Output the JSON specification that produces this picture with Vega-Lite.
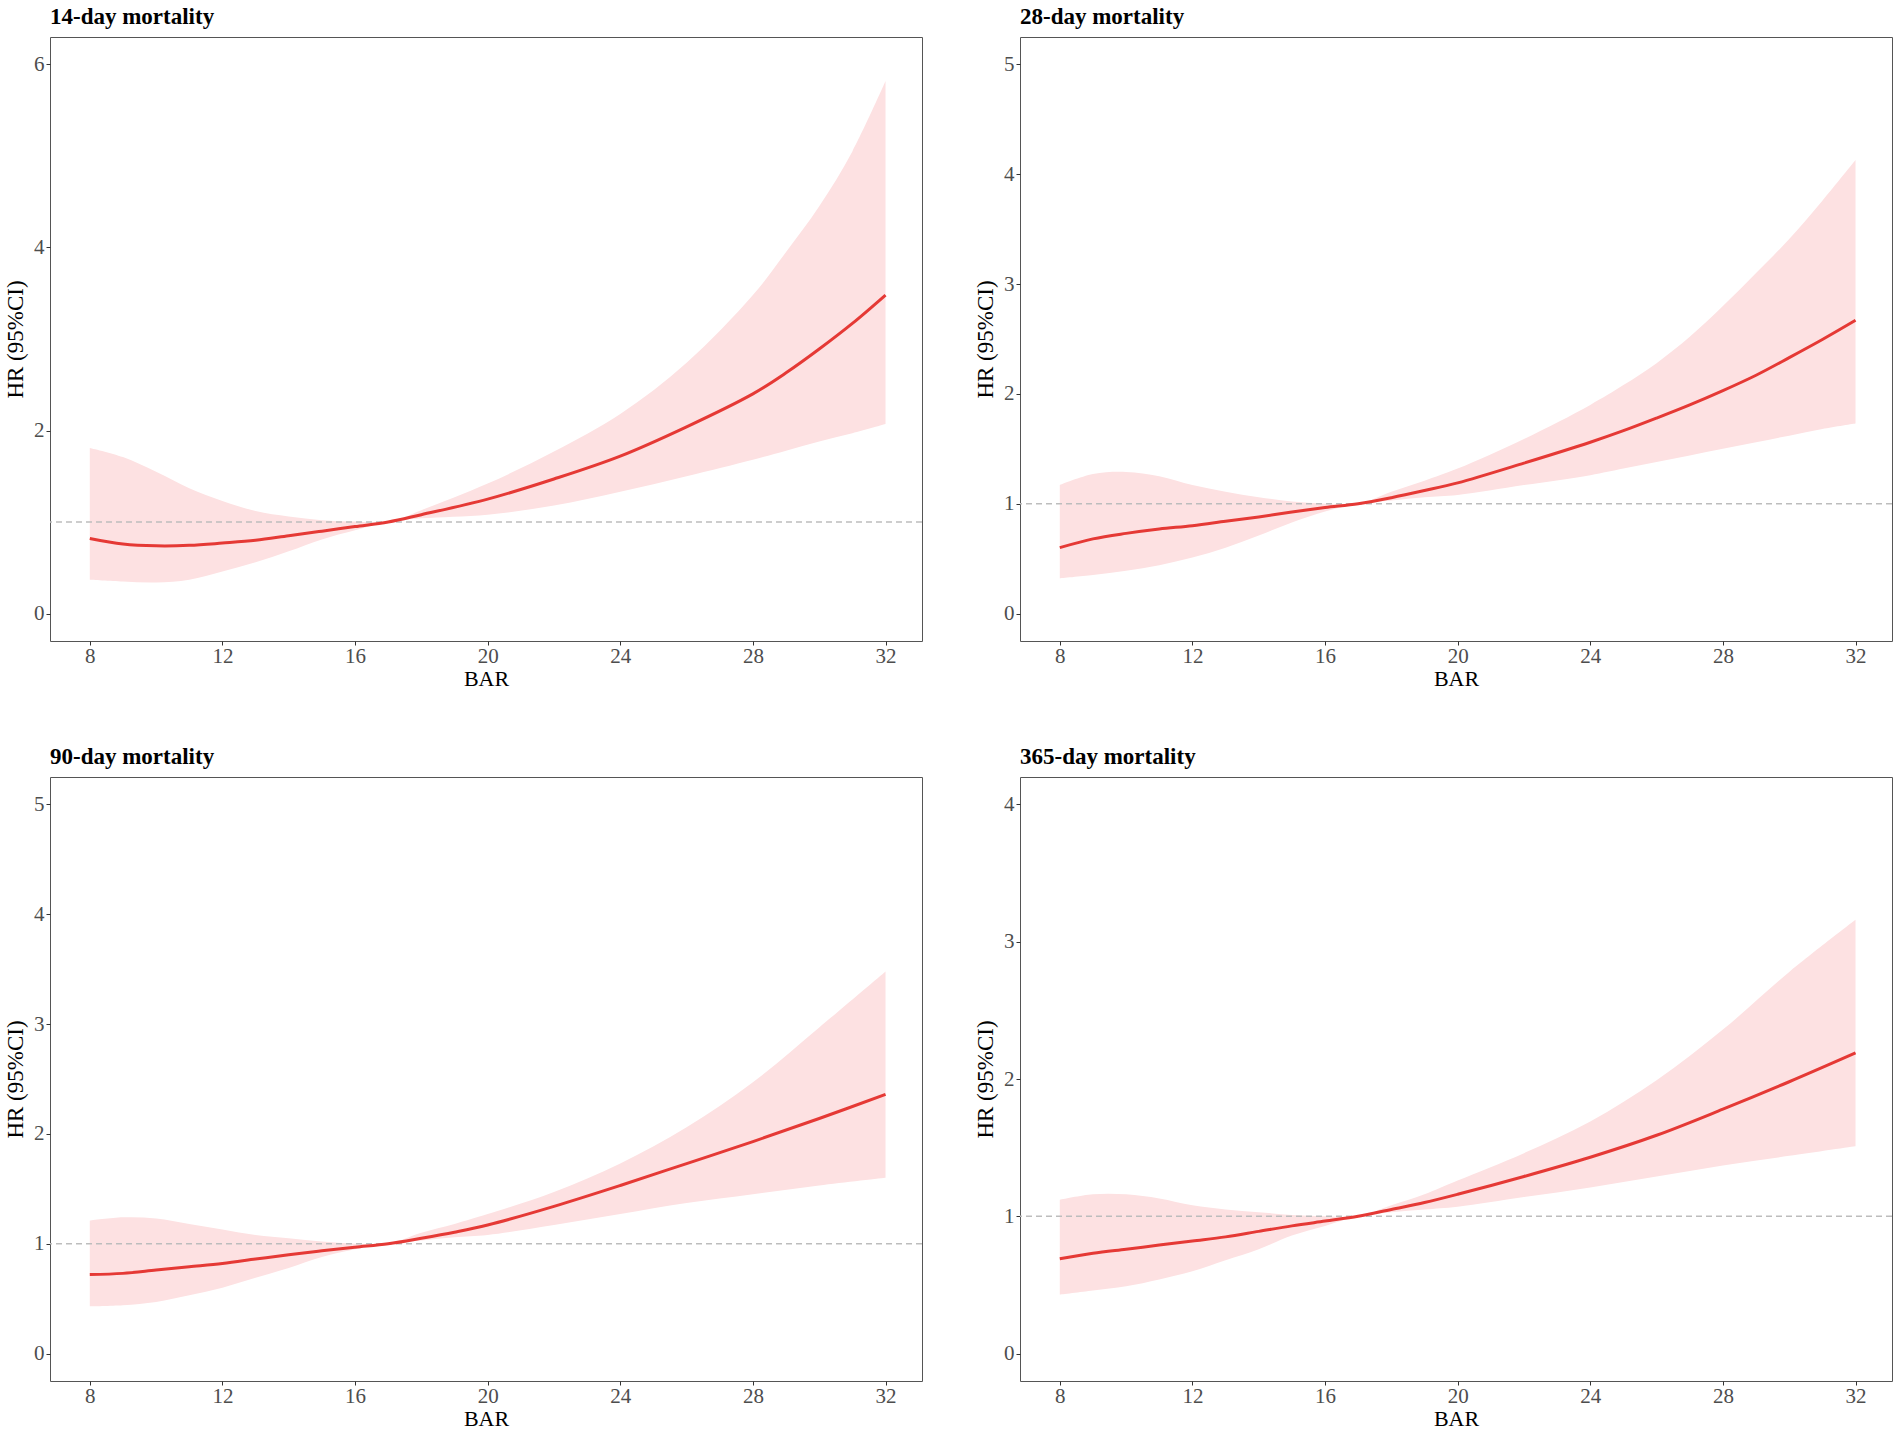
{
  "$schema": "https://vega.github.io/schema/vega-lite/v6.json",
  "background": "white",
  "padding": {"left": 4, "top": 5, "right": 4, "bottom": 2},
  "data": {
    "values": [
      {"panel": "14", "bar": 8, "hr": 0.82, "lower": 0.37, "upper": 1.81},
      {"panel": "14", "bar": 9, "hr": 0.76, "lower": 0.35, "upper": 1.71},
      {"panel": "14", "bar": 10, "hr": 0.74, "lower": 0.34, "upper": 1.55},
      {"panel": "14", "bar": 11, "hr": 0.745, "lower": 0.37, "upper": 1.37},
      {"panel": "14", "bar": 12, "hr": 0.77, "lower": 0.46, "upper": 1.23},
      {"panel": "14", "bar": 13, "hr": 0.8, "lower": 0.56, "upper": 1.12},
      {"panel": "14", "bar": 14, "hr": 0.85, "lower": 0.68, "upper": 1.06},
      {"panel": "14", "bar": 15, "hr": 0.9, "lower": 0.81, "upper": 1.02},
      {"panel": "14", "bar": 16, "hr": 0.95, "lower": 0.91, "upper": 1.005},
      {"panel": "14", "bar": 17, "hr": 1.0, "lower": 1.0, "upper": 1.0},
      {"panel": "14", "bar": 18, "hr": 1.08, "lower": 1.04, "upper": 1.13},
      {"panel": "14", "bar": 20, "hr": 1.25, "lower": 1.08, "upper": 1.42},
      {"panel": "14", "bar": 22, "hr": 1.47, "lower": 1.18, "upper": 1.77},
      {"panel": "14", "bar": 24, "hr": 1.72, "lower": 1.33, "upper": 2.18},
      {"panel": "14", "bar": 26, "hr": 2.04, "lower": 1.5, "upper": 2.74},
      {"panel": "14", "bar": 28, "hr": 2.4, "lower": 1.68, "upper": 3.48},
      {"panel": "14", "bar": 29, "hr": 2.63, "lower": 1.78, "upper": 3.95},
      {"panel": "14", "bar": 30, "hr": 2.89, "lower": 1.88, "upper": 4.45},
      {"panel": "14", "bar": 31, "hr": 3.17, "lower": 1.97, "upper": 5.05},
      {"panel": "14", "bar": 32, "hr": 3.48, "lower": 2.07, "upper": 5.82},

      {"panel": "28", "bar": 8, "hr": 0.6, "lower": 0.32, "upper": 1.17},
      {"panel": "28", "bar": 9, "hr": 0.68, "lower": 0.35, "upper": 1.27},
      {"panel": "28", "bar": 10, "hr": 0.73, "lower": 0.39, "upper": 1.29},
      {"panel": "28", "bar": 11, "hr": 0.77, "lower": 0.44, "upper": 1.25},
      {"panel": "28", "bar": 12, "hr": 0.8, "lower": 0.51, "upper": 1.17},
      {"panel": "28", "bar": 13, "hr": 0.84, "lower": 0.6, "upper": 1.11},
      {"panel": "28", "bar": 14, "hr": 0.88, "lower": 0.71, "upper": 1.06},
      {"panel": "28", "bar": 15, "hr": 0.925, "lower": 0.83, "upper": 1.02},
      {"panel": "28", "bar": 16, "hr": 0.965, "lower": 0.93, "upper": 1.0},
      {"panel": "28", "bar": 17, "hr": 1.0, "lower": 1.0, "upper": 1.0},
      {"panel": "28", "bar": 18, "hr": 1.055, "lower": 1.03, "upper": 1.11},
      {"panel": "28", "bar": 19, "hr": 1.12, "lower": 1.06, "upper": 1.21},
      {"panel": "28", "bar": 20, "hr": 1.19, "lower": 1.08, "upper": 1.32},
      {"panel": "28", "bar": 22, "hr": 1.37, "lower": 1.17, "upper": 1.59},
      {"panel": "28", "bar": 24, "hr": 1.56, "lower": 1.26, "upper": 1.9},
      {"panel": "28", "bar": 25, "hr": 1.665, "lower": 1.32, "upper": 2.08},
      {"panel": "28", "bar": 26, "hr": 1.78, "lower": 1.38, "upper": 2.28},
      {"panel": "28", "bar": 27, "hr": 1.9, "lower": 1.44, "upper": 2.52},
      {"panel": "28", "bar": 28, "hr": 2.03, "lower": 1.5, "upper": 2.8},
      {"panel": "28", "bar": 29, "hr": 2.17, "lower": 1.56, "upper": 3.1},
      {"panel": "28", "bar": 30, "hr": 2.33, "lower": 1.62, "upper": 3.41},
      {"panel": "28", "bar": 31, "hr": 2.495, "lower": 1.68, "upper": 3.76},
      {"panel": "28", "bar": 32, "hr": 2.67, "lower": 1.73, "upper": 4.13},

      {"panel": "90", "bar": 8, "hr": 0.72, "lower": 0.43, "upper": 1.21},
      {"panel": "90", "bar": 9, "hr": 0.73, "lower": 0.44, "upper": 1.24},
      {"panel": "90", "bar": 10, "hr": 0.76, "lower": 0.47, "upper": 1.23},
      {"panel": "90", "bar": 11, "hr": 0.79, "lower": 0.53, "upper": 1.18},
      {"panel": "90", "bar": 12, "hr": 0.82, "lower": 0.6, "upper": 1.13},
      {"panel": "90", "bar": 13, "hr": 0.86, "lower": 0.69, "upper": 1.08},
      {"panel": "90", "bar": 14, "hr": 0.9, "lower": 0.78, "upper": 1.05},
      {"panel": "90", "bar": 15, "hr": 0.935, "lower": 0.88, "upper": 1.02},
      {"panel": "90", "bar": 16, "hr": 0.968, "lower": 0.95, "upper": 1.0},
      {"panel": "90", "bar": 17, "hr": 1.0, "lower": 1.0, "upper": 1.0},
      {"panel": "90", "bar": 18, "hr": 1.05, "lower": 1.03, "upper": 1.1},
      {"panel": "90", "bar": 19, "hr": 1.105, "lower": 1.06, "upper": 1.18},
      {"panel": "90", "bar": 20, "hr": 1.17, "lower": 1.08, "upper": 1.27},
      {"panel": "90", "bar": 22, "hr": 1.34, "lower": 1.17, "upper": 1.47},
      {"panel": "90", "bar": 24, "hr": 1.53, "lower": 1.27, "upper": 1.73},
      {"panel": "90", "bar": 26, "hr": 1.73, "lower": 1.37, "upper": 2.06},
      {"panel": "90", "bar": 28, "hr": 1.93, "lower": 1.45, "upper": 2.47},
      {"panel": "90", "bar": 30, "hr": 2.14, "lower": 1.53, "upper": 2.97},
      {"panel": "90", "bar": 32, "hr": 2.36, "lower": 1.6, "upper": 3.48},

      {"panel": "365", "bar": 8, "hr": 0.69, "lower": 0.43, "upper": 1.12},
      {"panel": "365", "bar": 9, "hr": 0.73, "lower": 0.46, "upper": 1.16},
      {"panel": "365", "bar": 10, "hr": 0.76, "lower": 0.49, "upper": 1.16},
      {"panel": "365", "bar": 11, "hr": 0.79, "lower": 0.54, "upper": 1.13},
      {"panel": "365", "bar": 12, "hr": 0.82, "lower": 0.6, "upper": 1.08},
      {"panel": "365", "bar": 13, "hr": 0.85, "lower": 0.68, "upper": 1.05},
      {"panel": "365", "bar": 14, "hr": 0.89, "lower": 0.76, "upper": 1.03},
      {"panel": "365", "bar": 15, "hr": 0.93, "lower": 0.86, "upper": 1.01},
      {"panel": "365", "bar": 16, "hr": 0.965, "lower": 0.93, "upper": 1.0},
      {"panel": "365", "bar": 17, "hr": 1.0, "lower": 1.0, "upper": 1.0},
      {"panel": "365", "bar": 18, "hr": 1.05, "lower": 1.03, "upper": 1.08},
      {"panel": "365", "bar": 19, "hr": 1.1, "lower": 1.05, "upper": 1.16},
      {"panel": "365", "bar": 20, "hr": 1.16, "lower": 1.07, "upper": 1.26},
      {"panel": "365", "bar": 22, "hr": 1.29, "lower": 1.14, "upper": 1.46},
      {"panel": "365", "bar": 24, "hr": 1.43, "lower": 1.21, "upper": 1.69},
      {"panel": "365", "bar": 26, "hr": 1.59, "lower": 1.29, "upper": 1.99},
      {"panel": "365", "bar": 28, "hr": 1.78, "lower": 1.37, "upper": 2.36},
      {"panel": "365", "bar": 30, "hr": 1.98, "lower": 1.44, "upper": 2.78},
      {"panel": "365", "bar": 32, "hr": 2.19, "lower": 1.51, "upper": 3.16}
    ]
  },
  "config": {
    "font": "Liberation Serif",
    "view": {"stroke": "#555555", "strokeWidth": 1},
    "title": {"font": "Liberation Serif", "fontSize": 23, "fontWeight": "bold", "color": "#000000", "anchor": "start", "frame": "group", "offset": 8},
    "axis": {
      "grid": false,
      "domain": false,
      "ticks": true,
      "tickColor": "#333333",
      "tickSize": 4,
      "labelFont": "Liberation Serif",
      "labelFontSize": 21,
      "labelColor": "#4d4d4d",
      "labelFlush": false,
      "format": "d",
      "titleFont": "Liberation Serif",
      "titleFontSize": 22,
      "titleFontWeight": "normal",
      "titleColor": "#000000"
    },
    "axisX": {"labelPadding": 0, "titlePadding": 2},
    "axisY": {"labelPadding": 2, "titlePadding": 6, "titleFontSize": 23}
  },
  "columns": 2,
  "spacing": {"row": 55, "column": 50},
  "concat": [
    {
      "title": "14-day mortality",
      "width": 872,
      "height": 604,
      "layer": [
        {
          "transform": [{"filter": "datum.panel === '14'"}],
          "mark": {"type": "area", "color": "#fde1e2", "opacity": 1, "interpolate": "catmull-rom"},
          "encoding": {
            "x": {"field": "bar", "type": "quantitative", "title": "BAR", "scale": {"domain": [6.8, 33.1], "nice": false, "zero": false}, "axis": {"values": [8, 12, 16, 20, 24, 28, 32]}},
            "y": {"field": "lower", "type": "quantitative", "title": "HR (95%CI)", "scale": {"domain": [-0.3, 6.3], "nice": false, "zero": false}, "axis": {"values": [0, 2, 4, 6]}},
            "y2": {"field": "upper"}
          }
        },
        {
          "data": {"values": [{"ref": 1}]},
          "mark": {"type": "rule", "color": "#bdbdbd", "strokeDash": [6, 4], "strokeWidth": 1.5},
          "encoding": {"y": {"field": "ref", "type": "quantitative", "title": "HR (95%CI)"}}
        },
        {
          "transform": [{"filter": "datum.panel === '14'"}],
          "mark": {"type": "line", "color": "#e53935", "strokeWidth": 3, "interpolate": "catmull-rom"},
          "encoding": {
            "x": {"field": "bar", "type": "quantitative", "title": "BAR"},
            "y": {"field": "hr", "type": "quantitative", "title": "HR (95%CI)"}
          }
        }
      ]
    },
    {
      "title": "28-day mortality",
      "width": 872,
      "height": 604,
      "layer": [
        {
          "transform": [{"filter": "datum.panel === '28'"}],
          "mark": {"type": "area", "color": "#fde1e2", "opacity": 1, "interpolate": "catmull-rom"},
          "encoding": {
            "x": {"field": "bar", "type": "quantitative", "title": "BAR", "scale": {"domain": [6.8, 33.1], "nice": false, "zero": false}, "axis": {"values": [8, 12, 16, 20, 24, 28, 32]}},
            "y": {"field": "lower", "type": "quantitative", "title": "HR (95%CI)", "scale": {"domain": [-0.25, 5.25], "nice": false, "zero": false}, "axis": {"values": [0, 1, 2, 3, 4, 5]}},
            "y2": {"field": "upper"}
          }
        },
        {
          "data": {"values": [{"ref": 1}]},
          "mark": {"type": "rule", "color": "#bdbdbd", "strokeDash": [6, 4], "strokeWidth": 1.5},
          "encoding": {"y": {"field": "ref", "type": "quantitative", "title": "HR (95%CI)"}}
        },
        {
          "transform": [{"filter": "datum.panel === '28'"}],
          "mark": {"type": "line", "color": "#e53935", "strokeWidth": 3, "interpolate": "catmull-rom"},
          "encoding": {
            "x": {"field": "bar", "type": "quantitative", "title": "BAR"},
            "y": {"field": "hr", "type": "quantitative", "title": "HR (95%CI)"}
          }
        }
      ]
    },
    {
      "title": "90-day mortality",
      "width": 872,
      "height": 604,
      "layer": [
        {
          "transform": [{"filter": "datum.panel === '90'"}],
          "mark": {"type": "area", "color": "#fde1e2", "opacity": 1, "interpolate": "catmull-rom"},
          "encoding": {
            "x": {"field": "bar", "type": "quantitative", "title": "BAR", "scale": {"domain": [6.8, 33.1], "nice": false, "zero": false}, "axis": {"values": [8, 12, 16, 20, 24, 28, 32]}},
            "y": {"field": "lower", "type": "quantitative", "title": "HR (95%CI)", "scale": {"domain": [-0.25, 5.25], "nice": false, "zero": false}, "axis": {"values": [0, 1, 2, 3, 4, 5]}},
            "y2": {"field": "upper"}
          }
        },
        {
          "data": {"values": [{"ref": 1}]},
          "mark": {"type": "rule", "color": "#bdbdbd", "strokeDash": [6, 4], "strokeWidth": 1.5},
          "encoding": {"y": {"field": "ref", "type": "quantitative", "title": "HR (95%CI)"}}
        },
        {
          "transform": [{"filter": "datum.panel === '90'"}],
          "mark": {"type": "line", "color": "#e53935", "strokeWidth": 3, "interpolate": "catmull-rom"},
          "encoding": {
            "x": {"field": "bar", "type": "quantitative", "title": "BAR"},
            "y": {"field": "hr", "type": "quantitative", "title": "HR (95%CI)"}
          }
        }
      ]
    },
    {
      "title": "365-day mortality",
      "width": 872,
      "height": 604,
      "layer": [
        {
          "transform": [{"filter": "datum.panel === '365'"}],
          "mark": {"type": "area", "color": "#fde1e2", "opacity": 1, "interpolate": "catmull-rom"},
          "encoding": {
            "x": {"field": "bar", "type": "quantitative", "title": "BAR", "scale": {"domain": [6.8, 33.1], "nice": false, "zero": false}, "axis": {"values": [8, 12, 16, 20, 24, 28, 32]}},
            "y": {"field": "lower", "type": "quantitative", "title": "HR (95%CI)", "scale": {"domain": [-0.2, 4.2], "nice": false, "zero": false}, "axis": {"values": [0, 1, 2, 3, 4]}},
            "y2": {"field": "upper"}
          }
        },
        {
          "data": {"values": [{"ref": 1}]},
          "mark": {"type": "rule", "color": "#bdbdbd", "strokeDash": [6, 4], "strokeWidth": 1.5},
          "encoding": {"y": {"field": "ref", "type": "quantitative", "title": "HR (95%CI)"}}
        },
        {
          "transform": [{"filter": "datum.panel === '365'"}],
          "mark": {"type": "line", "color": "#e53935", "strokeWidth": 3, "interpolate": "catmull-rom"},
          "encoding": {
            "x": {"field": "bar", "type": "quantitative", "title": "BAR"},
            "y": {"field": "hr", "type": "quantitative", "title": "HR (95%CI)"}
          }
        }
      ]
    }
  ]
}
